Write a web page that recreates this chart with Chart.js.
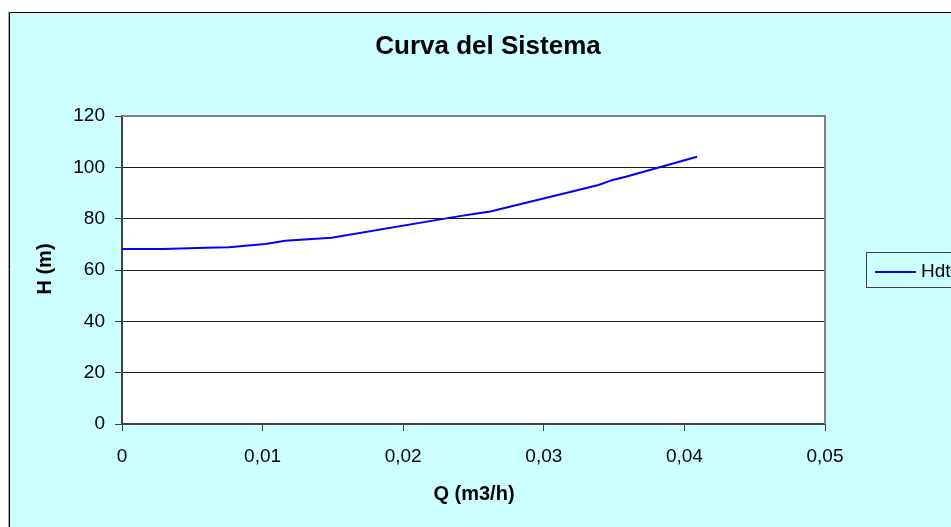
<!DOCTYPE html>
<html>
<head>
<meta charset="utf-8">
<script src="https://cdn.jsdelivr.net/npm/chart.js@4.4.1/dist/chart.umd.min.js"></script>
<style>
  html, body { margin: 0; padding: 0; background: #ffffff; }
  canvas { display: block; }
</style>
</head>
<body>
<canvas id="curva" width="951" height="527"></canvas>
<script>
// Caudal Q (m3/h) y altura dinámica total H (m) de la curva del sistema
const caudal = [0, 0.0029, 0.006, 0.0076, 0.0102, 0.0116, 0.0149, 0.0238, 0.025, 0.0262, 0.0339, 0.0349, 0.0359, 0.0409];
const alturaHdt = [68.2, 68.2, 68.7, 68.9, 70.1, 71.4, 72.6, 80.8, 81.8, 82.8, 93.1, 95.1, 96.4, 104.1];
const ticksQ = [0, 0.01, 0.02, 0.03, 0.04, 0.05];
const ticksH = [0, 20, 40, 60, 80, 100, 120];

const tituloGrafico = 'Curva del Sistema';
const tituloEjeX = 'Q (m3/h)';
const tituloEjeY = 'H (m)';
const nombreSerie = 'Hdt';

const FONT = "'Liberation Sans', Arial, sans-serif";
const FONDO = '#ccffff';
const AZUL = '#0000ff';

const puntos = caudal.map((q, i) => ({ x: q, y: alturaHdt[i] }));

// Fondo del gráfico, área de trazado, títulos y leyenda
const decoracion = {
  id: 'decoracion',
  beforeDraw(chart) {
    const ctx = chart.ctx;
    const a = chart.chartArea;
    ctx.save();
    ctx.fillStyle = '#ffffff';
    ctx.fillRect(0, 0, chart.width, chart.height);
    ctx.fillStyle = FONDO;
    ctx.fillRect(9, 12, chart.width - 9, chart.height - 12);
    // marco exterior
    ctx.strokeStyle = '#a0a0a0';
    ctx.lineWidth = 1;
    ctx.beginPath();
    ctx.moveTo(8.5, chart.height);
    ctx.lineTo(8.5, 11.5);
    ctx.stroke();
    ctx.strokeStyle = '#000000';
    ctx.beginPath();
    ctx.moveTo(9.5, chart.height);
    ctx.lineTo(9.5, 12.5);
    ctx.lineTo(chart.width, 12.5);
    ctx.stroke();
    // área de trazado
    ctx.fillStyle = '#ffffff';
    ctx.fillRect(a.left, a.top, a.right - a.left, a.bottom - a.top);
    ctx.restore();
  },
  afterDraw(chart) {
    const ctx = chart.ctx;
    const a = chart.chartArea;
    ctx.save();
    // borde derecho y superior del área de trazado
    ctx.strokeStyle = '#808080';
    ctx.lineWidth = 2;
    ctx.beginPath();
    ctx.moveTo(a.left, a.top);
    ctx.lineTo(a.right, a.top);
    ctx.lineTo(a.right, a.bottom);
    ctx.stroke();

    ctx.fillStyle = '#000000';
    ctx.textAlign = 'center';
    ctx.textBaseline = 'middle';
    ctx.font = 'bold 26px ' + FONT;
    ctx.fillText(tituloGrafico, 488, 47);

    ctx.font = 'bold 20px ' + FONT;
    ctx.fillText(tituloEjeX, 474, 494);

    ctx.save();
    ctx.translate(45, 269);
    ctx.rotate(-Math.PI / 2);
    ctx.fillText(tituloEjeY, 0, 0);
    ctx.restore();

    // leyenda
    const ds = chart.data.datasets[0];
    ctx.fillStyle = FONDO;
    ctx.fillRect(866, 252, chart.width - 866, 36);
    ctx.strokeStyle = '#404040';
    ctx.lineWidth = 1;
    ctx.strokeRect(866.5, 252.5, chart.width, 35);
    ctx.strokeStyle = ds.borderColor;
    ctx.lineWidth = 2;
    ctx.beginPath();
    ctx.moveTo(875, 272);
    ctx.lineTo(916, 272);
    ctx.stroke();
    ctx.fillStyle = '#000000';
    ctx.textAlign = 'left';
    ctx.font = '19px ' + FONT;
    ctx.fillText(ds.label, 921, 272);
    ctx.restore();
  }
};

const formatoComa = v => String(Number(v.toFixed(2))).replace('.', ',');

new Chart(document.getElementById('curva'), {
  type: 'line',
  data: {
    datasets: [{
      label: nombreSerie,
      data: puntos,
      borderColor: AZUL,
      backgroundColor: AZUL,
      borderWidth: 2,
      pointRadius: 0,
      pointHoverRadius: 0,
      tension: 0,
      fill: false
    }]
  },
  options: {
    responsive: false,
    devicePixelRatio: 1,
    animation: false,
    events: [],
    layout: { padding: { left: 0, top: 116, right: 126, bottom: 0 } },
    plugins: {
      legend: { display: false },
      title: { display: false },
      tooltip: { enabled: false }
    },
    scales: {
      x: {
        type: 'linear',
        min: 0,
        max: 0.05,
        afterBuildTicks(scale) { scale.ticks = ticksQ.map(v => ({ value: v })); },
        afterFit(scale) { scale.height = 103; },
        border: { display: true, color: '#404040', width: 2 },
        grid: {
          display: true,
          drawOnChartArea: false,
          drawTicks: true,
          tickLength: 7,
          tickColor: '#404040',
          tickWidth: 1
        },
        ticks: {
          color: '#000000',
          font: { family: FONT, size: 19 },
          padding: 14,
          maxRotation: 0,
          callback: v => formatoComa(v)
        }
      },
      y: {
        type: 'linear',
        min: 0,
        max: 120,
        afterBuildTicks(scale) { scale.ticks = ticksH.map(v => ({ value: v })); },
        afterFit(scale) { scale.width = 122; },
        border: { display: true, color: '#404040', width: 2 },
        grid: {
          display: true,
          drawOnChartArea: true,
          drawTicks: true,
          tickLength: 7,
          color: ctx => (ctx.tick && ctx.tick.value === 120) ? 'rgba(0,0,0,0)' : '#1a1a1a',
          tickColor: '#404040',
          lineWidth: 1
        },
        ticks: {
          color: '#000000',
          font: { family: FONT, size: 19 },
          padding: 10,
          callback: v => String(v)
        }
      }
    }
  },
  plugins: [decoracion]
});
</script>
</body>
</html>
